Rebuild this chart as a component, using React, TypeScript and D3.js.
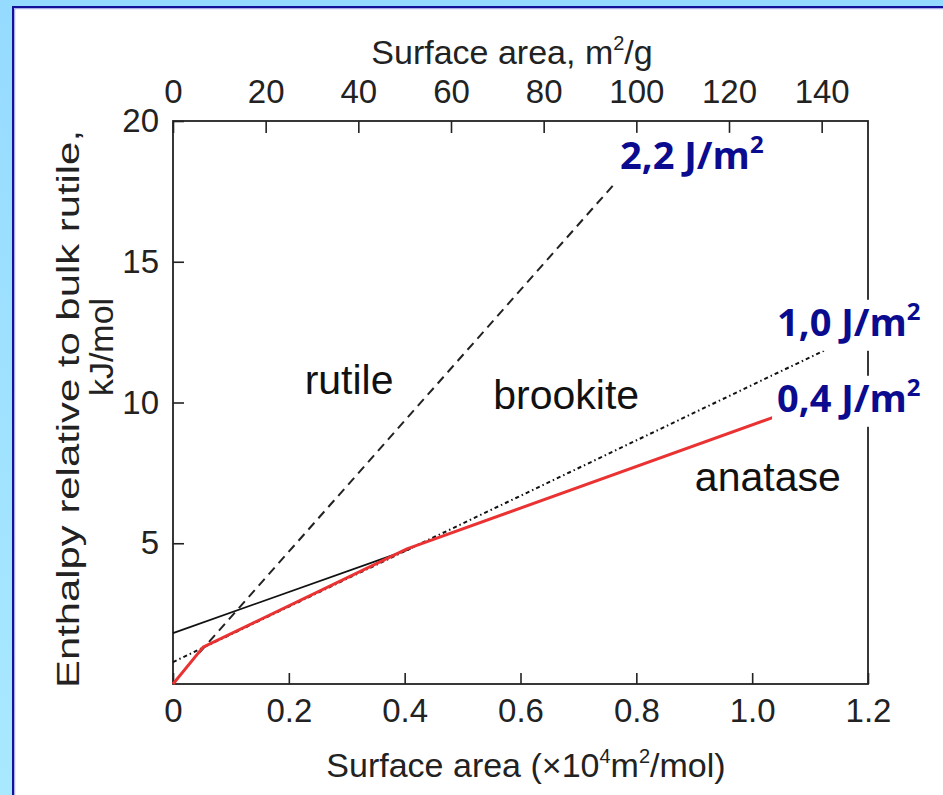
import React, { useEffect, useRef } from "react";
import * as d3 from "d3";

// lines: [surface area (x10^4 m2/mol), enthalpy (kJ/mol)]
const rutileLine = [[0.045, 1.1], [0.77, 17.95]];
const brookiteLine = [[0, 0.78], [1.14, 12.0]];
const anataseLine = [[0, 1.81], [0.41, 4.8]];
const lowestEnthalpy = [[0, 0], [0.052, 1.31], [0.404, 4.8], [1.04, 9.5]];

const bottomTicks = [0, 0.2, 0.4, 0.6, 0.8, 1.0, 1.2];
const topTicks = [0, 20, 40, 60, 80, 100, 120, 140];
const leftTicks = [5, 10, 15, 20];

const phaseLabels = [
  { name: "rutile", x: 0.304, y: 10.3 },
  { name: "brookite", x: 0.679, y: 9.77 },
  { name: "anatase", x: 1.027, y: 6.86 },
];
const energyLabels = [
  { text: "2,2 J/m", x: 0.772, y: 18.3 },
  { text: "1,0 J/m", x: 1.043, y: 12.37 },
  { text: "0,4 J/m", x: 1.043, y: 9.67 },
];

const W = 943;
const H = 795;

export default function App() {
  const ref = useRef<SVGSVGElement>(null);

  useEffect(() => {
    const svg = d3.select(ref.current);
    svg.selectAll("*").remove();

    // background + frame
    const defs = svg.append("defs");
    const grad = defs.append("linearGradient").attr("id", "bg").attr("x1", 0).attr("y1", 0).attr("x2", 0).attr("y2", 1);
    grad.append("stop").attr("offset", "0%").attr("stop-color", "#95dbff");
    grad.append("stop").attr("offset", "100%").attr("stop-color", "#a9e9ff");
    svg.append("rect").attr("width", W).attr("height", H).attr("fill", "url(#bg)");
    svg.append("rect").attr("x", 13).attr("y", 7).attr("width", 1000).attr("height", 1000)
      .attr("fill", "white").attr("stroke", "#12129a").attr("stroke-width", 2);
    svg.append("rect").attr("x", 14.7).attr("y", 8.7).attr("width", 1000).attr("height", 1000)
      .attr("fill", "none").attr("stroke", "#9a9ae0").attr("stroke-width", 1);

    const left = 173, right = 868, top = 121, bottom = 684;
    const x = d3.scaleLinear().domain([0, 1.2]).range([left, right]);
    const xTop = d3.scaleLinear().domain([0, 150]).range([left, right]);
    const y = d3.scaleLinear().domain([0, 20]).range([bottom, top]);

    const font = "'Liberation Sans', Arial, sans-serif";
    const styleAxis = (g) => {
      g.select(".domain").remove();
      g.selectAll(".tick line").attr("stroke", "#222").attr("stroke-width", 1.6);
      g.selectAll(".tick text").attr("fill", "#222").style("font-family", font).style("font-size", "33px");
    };

    // frame box
    svg.append("rect").attr("x", left).attr("y", top).attr("width", right - left).attr("height", bottom - top)
      .attr("fill", "none").attr("stroke", "#222").attr("stroke-width", 1.8);

    svg.append("g").attr("transform", `translate(0,${bottom})`)
      .call(d3.axisBottom(x).tickValues(bottomTicks).tickSize(-11).tickPadding(15)
        .tickFormat((d) => (d === 0 ? "0" : d3.format(".1f")(d))))
      .call(styleAxis);

    svg.append("g").attr("transform", `translate(0,${top})`)
      .call(d3.axisTop(xTop).tickValues(topTicks).tickSize(-12).tickPadding(18))
      .call(styleAxis);

    svg.append("g").attr("transform", `translate(${left},0)`)
      .call(d3.axisLeft(y).tickValues(leftTicks).tickSize(-11).tickPadding(14))
      .call(styleAxis);

    // axis titles
    const topTitle = svg.append("text").attr("x", 512).attr("y", 64).attr("text-anchor", "middle")
      .style("font-family", font).style("font-size", "34px").attr("fill", "#222");
    topTitle.append("tspan").text("Surface area, m");
    topTitle.append("tspan").attr("dy", -14).style("font-size", "20px").text("2");
    topTitle.append("tspan").attr("dy", 14).text("/g");

    const botTitle = svg.append("text").attr("x", 526).attr("y", 777).attr("text-anchor", "middle")
      .style("font-family", font).style("font-size", "34px").attr("fill", "#222");
    botTitle.append("tspan").text("Surface area (\u00d710");
    botTitle.append("tspan").attr("dy", -14).style("font-size", "20px").text("4");
    botTitle.append("tspan").attr("dy", 14).text("m");
    botTitle.append("tspan").attr("dy", -14).style("font-size", "20px").text("2");
    botTitle.append("tspan").attr("dy", 14).text("/mol)");

    svg.append("text").attr("transform", "translate(79,409) rotate(-90)").attr("text-anchor", "middle")
      .attr("textLength", 558).attr("lengthAdjust", "spacingAndGlyphs")
      .style("font-family", font).style("font-size", "32px").attr("fill", "#222")
      .text("Enthalpy relative to bulk rutile,");
    svg.append("text").attr("transform", "translate(113,347) rotate(-90)").attr("text-anchor", "middle")
      .style("font-family", font).style("font-size", "34px").attr("fill", "#222")
      .text("kJ/mol");

    // lines
    const line = d3.line().x((d) => x(d[0])).y((d) => y(d[1]));
    svg.append("path").datum(anataseLine).attr("d", line).attr("fill", "none")
      .attr("stroke", "#111").attr("stroke-width", 1.8);
    svg.append("path").datum(brookiteLine).attr("d", line).attr("fill", "none")
      .attr("stroke", "#111").attr("stroke-width", 2).attr("stroke-dasharray", "4,3,1.5,3");
    svg.append("path").datum(rutileLine).attr("d", line).attr("fill", "none")
      .attr("stroke", "#222").attr("stroke-width", 2).attr("stroke-dasharray", "9,6");
    svg.append("path").datum(lowestEnthalpy).attr("d", line).attr("fill", "none")
      .attr("stroke", "#ea3232").attr("stroke-width", 3).attr("stroke-linejoin", "round");

    // phase names
    svg.selectAll(".phase").data(phaseLabels).join("text").attr("class", "phase")
      .attr("x", (d) => x(d.x)).attr("y", (d) => y(d.y)).attr("text-anchor", "middle")
      .style("font-family", font).style("font-size", "41px").attr("fill", "#111")
      .text((d) => d.name);

    // surface energy labels on white boxes
    const eg = svg.selectAll(".energy").data(energyLabels).join("g").attr("class", "energy");
    const boxes = eg.append("rect").attr("fill", "white");
    const et = eg.append("text").attr("x", (d) => x(d.x)).attr("y", (d) => y(d.y))
      .style("font-family", "'Open Sans', sans-serif").style("font-weight", 700).style("font-size", "38px")
      .attr("fill", "#0b0b8f");
    et.append("tspan").text((d) => d.text);
    et.append("tspan").attr("dy", -16).style("font-size", "24px").text("2");
    et.each(function (d, i) {
      const b = (this as SVGTextElement).getBBox();
      d3.select(boxes.nodes()[i]).attr("x", b.x - 5).attr("y", b.y + 6).attr("width", b.width + 8).attr("height", b.height - 2);
    });
  }, []);

  return (
    <svg ref={ref} width={W} height={H} style={{ position: "absolute", left: 0, top: 0, display: "block" }} />
  );
}
